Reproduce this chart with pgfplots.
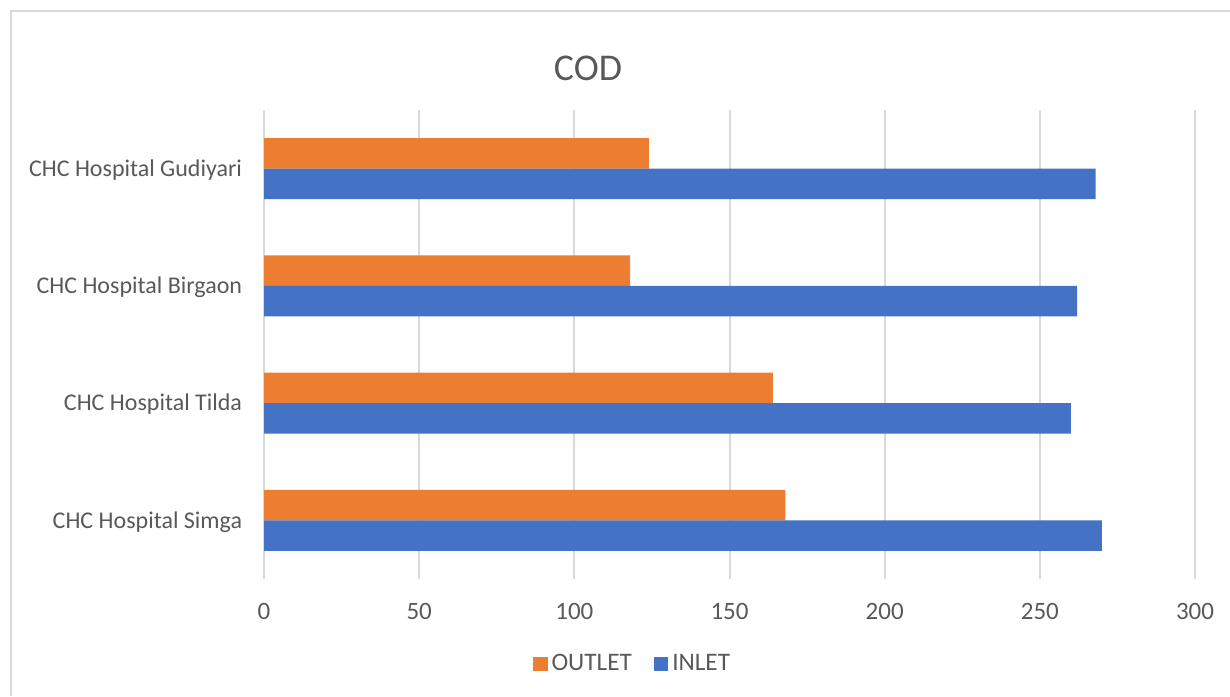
\documentclass[border=0pt]{standalone}
\usepackage{pgfplots}
\pgfplotsset{compat=1.18}
\usepackage{fontspec}
\setmainfont{Carlito}
\definecolor{outletc}{HTML}{ED7D31}
\definecolor{inletc}{HTML}{4472C4}
\definecolor{gridc}{HTML}{D9D9D9}
\definecolor{textc}{HTML}{595959}

\begin{document}
\begin{tikzpicture}
  \useasboundingbox (0,0) rectangle (615pt,348pt);
  % chart area frame (only left and top edges are inside the crop)
  \draw[gridc, line width=0.6pt] (5.5pt,0) -- (5.5pt,342.5pt) -- (615pt,342.5pt);
  \begin{axis}[
      at={(132pt,58.5pt)}, anchor=south west,
      scale only axis,
      width=465.5pt, height=234.5pt,
      xbar, bar width=15.3pt,
      xmin=0, xmax=300,
      ymin=-0.5, ymax=3.5,
      xtick={0,50,...,300},
      ytick={0,1,2,3},
      yticklabels={CHC Hospital Simga, CHC Hospital Tilda, CHC Hospital Birgaon, CHC Hospital Gudiyari},
      axis line style={draw=none},
      major tick style={draw=none},
      xmajorgrids,
      grid style={gridc, line width=1pt},
      /pgf/number format/assume math mode=true,
      xticklabel style={font=\fontsize{12.5}{15}\selectfont, text=textc,
        inner sep=0pt, anchor=center, yshift=-16pt},
      yticklabel style={font=\fontsize{12}{15}\selectfont, text=textc,
        inner sep=0pt, anchor=base east, xshift=-6.5pt, yshift=-3.9pt},
      title={COD},
      title style={at={(0.348,1.064)}, anchor=center, inner sep=0pt,
        font=\fontsize{18.9}{22}\selectfont, text=textc},
      legend style={at={(0.397,-0.181)}, anchor=center, draw=none, fill=none,
        legend columns=2, font=\fontsize{12.6}{15}\selectfont, text=textc,
        /tikz/every even column/.append style={column sep=9pt}},
      legend image code/.code={\fill[#1] (0pt,-3.6pt) rectangle (7.2pt,3.6pt);},
    ]
    \addplot[fill=outletc, draw=none, bar shift=7.65pt]
      coordinates {(168,0) (164,1) (118,2) (124,3)};
    \addplot[fill=inletc, draw=none, bar shift=-7.65pt]
      coordinates {(270,0) (260,1) (262,2) (268,3)};
    \legend{OUTLET, INLET}
  \end{axis}
\end{tikzpicture}
\end{document}
